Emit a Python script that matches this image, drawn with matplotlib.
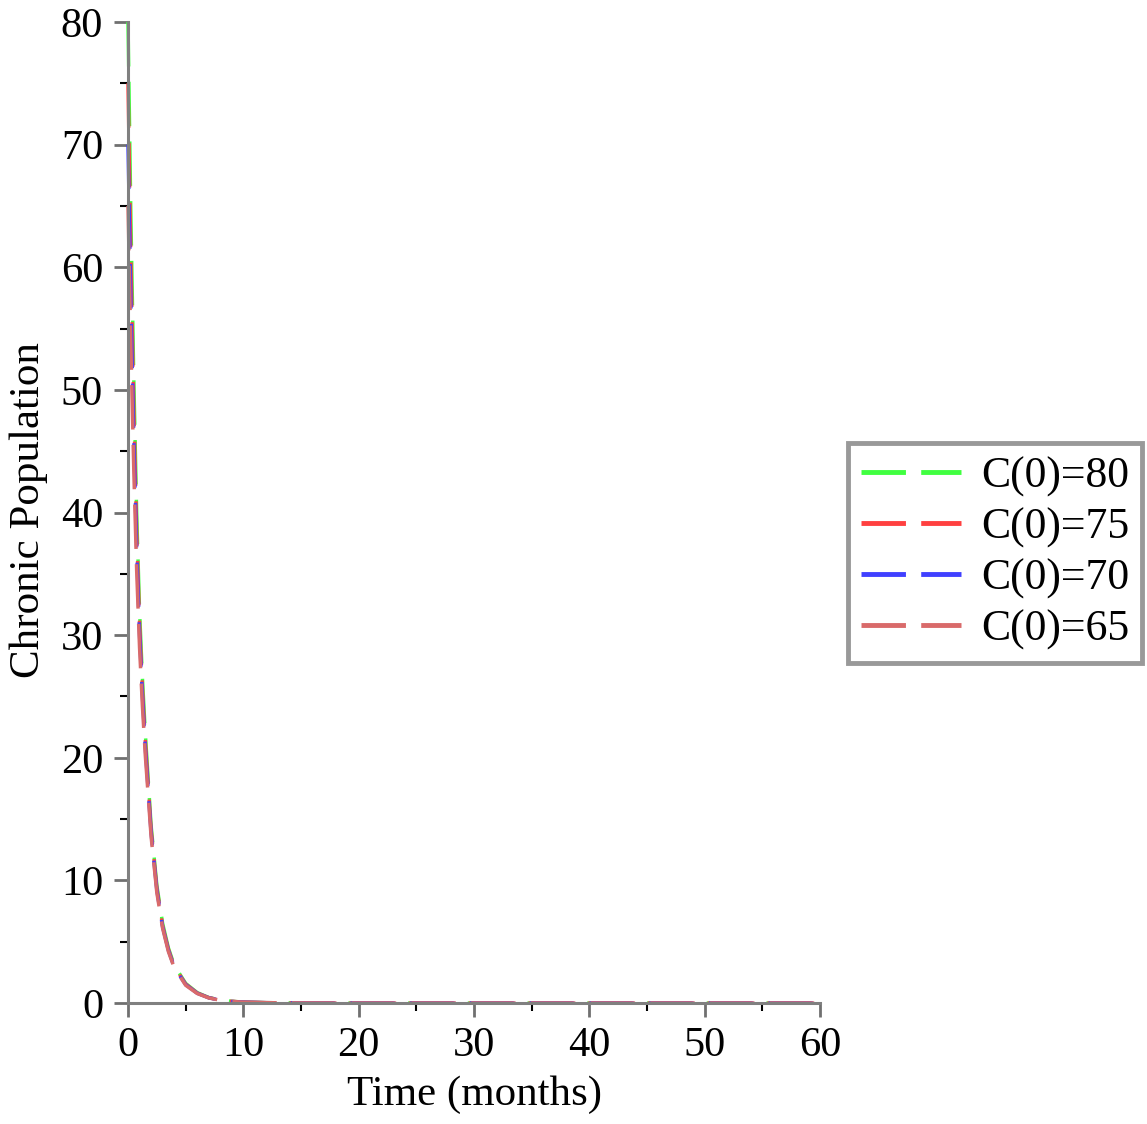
import matplotlib
matplotlib.use("Agg")
import matplotlib.pyplot as plt

# time points (months) and chronic population for each initial value
t = [0, 0.25, 0.5, 0.75, 1, 1.25, 1.5, 2, 2.5, 3, 3.5, 4, 5, 6, 7, 8, 9, 10,
     12, 15, 20, 30, 40, 50, 60]
c80 = [80, 64, 51, 40, 32, 26.5, 22, 14.5, 9.6, 6.5, 4.5, 3.1, 1.6, 0.85, 0.45,
       0.25, 0.14, 0.08, 0.03, 0.01, 0, 0, 0, 0, 0]
c75 = [75, 60.5, 48.5, 38.5, 31, 25.7, 21.4, 14.2, 9.4, 6.3, 4.4, 3.0, 1.55, 0.82,
       0.44, 0.24, 0.14, 0.08, 0.03, 0.01, 0, 0, 0, 0, 0]
c70 = [70, 57, 46, 37, 30, 25, 20.8, 13.9, 9.2, 6.2, 4.3, 2.95, 1.5, 0.8, 0.43,
       0.24, 0.13, 0.07, 0.03, 0.01, 0, 0, 0, 0, 0]
c65 = [65, 53.5, 43.5, 35.3, 29, 24.2, 20.2, 13.6, 9.0, 6.1, 4.2, 2.9, 1.45, 0.78,
       0.42, 0.23, 0.13, 0.07, 0.03, 0.01, 0, 0, 0, 0, 0]
labels = ["C(0)=80", "C(0)=75", "C(0)=70", "C(0)=65"]
colors = ["#40ff40", "#ff4040", "#4040ff", "#d96a6a"]

plt.rcParams['font.family'] = ['Liberation Serif', 'DejaVu Serif']
plt.rcParams['lines.scale_dashes'] = False

fig = plt.figure(figsize=(11.47, 11.24), dpi=100)
ax = fig.add_axes([0.1116, 0.1076, 0.6033, 0.8728])

for y, lab, col in zip([c80, c75, c70, c65], labels, colors):
    ax.plot(t, y, color=col, lw=2.5, dashes=(32, 11), label=lab, clip_on=False)

ax.set_xlim(0, 60)
ax.set_ylim(0, 80)
ax.set_xticks(range(0, 61, 10))
ax.set_yticks(range(0, 81, 10))
ax.set_xticks(range(5, 60, 10), minor=True)
ax.set_yticks(range(5, 80, 10), minor=True)

for s in ['top', 'right']:
    ax.spines[s].set_visible(False)
for s in ['left', 'bottom']:
    ax.spines[s].set_color('#808080')
    ax.spines[s].set_linewidth(2.2)

ax.tick_params(which='major', length=10, width=2, color='#707070',
               labelsize=30.5, pad=7)
ax.tick_params(which='minor', length=6, width=1.5, color='black')
ax.tick_params(axis='y', which='major', pad=8)

ax.set_xlabel("Time (months)", fontsize=31)
ax.set_ylabel("Chronic Population", fontsize=31)
ax.xaxis.set_label_coords(0.501, -0.074)
ax.yaxis.set_label_coords(-0.116, 0.5025)

leg = fig.legend(loc='center left', bbox_to_anchor=(0.739, 0.508),
                 fontsize=31.5, frameon=True, fancybox=False, handlelength=2.3,
                 handletextpad=0.45, borderpad=0.3, labelspacing=0.24,
                 borderaxespad=0)
leg.get_frame().set_edgecolor('#808080')
leg.get_frame().set_linewidth(3.5)
for line in leg.get_lines():
    line.set_linewidth(3.5)

fig.savefig("out.png", dpi=100)
